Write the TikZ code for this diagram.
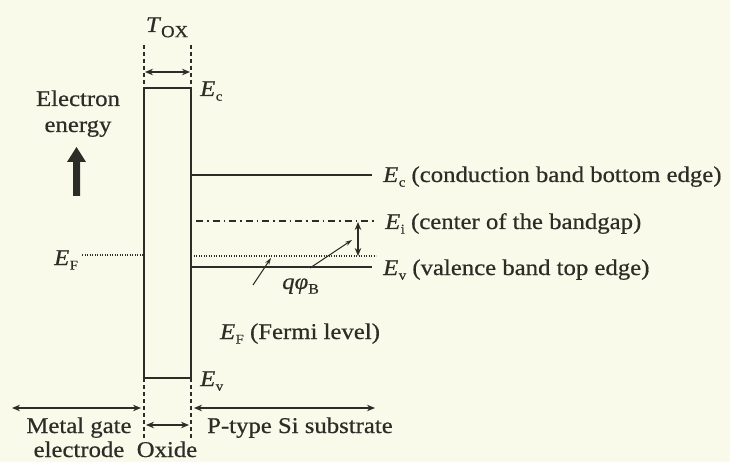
\documentclass[tikz,border=0pt]{standalone}
\usepackage{fontspec}
\setmainfont{Liberation Serif}[FakeStretch=1.1,FakeBold=0.6]
\usetikzlibrary{arrows.meta}
\definecolor{bg}{RGB}{250,250,234}
\definecolor{ink}{RGB}{45,45,40}
\newcommand{\Esub}[1]{\textit{E}\kern0.02em\raisebox{-0.45ex}{\fontsize{13.5}{13.5}\selectfont #1}}
\begin{document}
\begin{tikzpicture}[x=1pt,y=-1pt,
  font=\fontsize{22.5}{25}\selectfont,
  every node/.style={text=ink, inner sep=0pt},
  band/.style={draw=ink, line width=1.7pt},
  guide/.style={draw=ink, line width=1.1pt, dash pattern=on 4pt off 3pt},
  fermi/.style={draw=ink, line width=1.2pt, dash pattern=on 1.2pt off 1.3pt},
  mid/.style={draw=ink, line width=1.3pt, dash pattern=on 7pt off 4pt on 1.5pt off 4pt},
  dim/.style={draw=ink, line width=1.4pt, {Stealth[length=8pt,width=6.5pt]}-{Stealth[length=8pt,width=6.5pt]}},
  pointer/.style={draw=ink, line width=1pt, -{Stealth[length=7pt,width=4.5pt]}}]
\fill[bg] (0,0) rectangle (730,462);
\useasboundingbox (0,0) rectangle (730,462);
% oxide box
\coordinate (oxTL) at (144,88); \coordinate (oxTR) at (191,88);
\coordinate (oxBL) at (144,378); \coordinate (oxBR) at (191,378);
\draw[band] (oxBL) -- (oxTL) -- (oxTR) -- (oxBR) -- cycle;
% dashed guides
\coordinate (gLt) at (144,45); \coordinate (gRt) at (191,45);
\coordinate (gLb) at (144,439); \coordinate (gRb) at (191,439);
\draw[guide] (gLt) -- (oxTL);
\draw[guide] (gRt) -- (oxTR);
\draw[guide] (oxBL) -- (gLb);
\draw[guide] (oxBR) -- (gRb);
% Tox
\coordinate (toxL) at (145,72); \coordinate (toxR) at (190,72);
\draw[dim] (toxL) -- (toxR);
\node[anchor=base] (tox) at (167,32) {\textit{T}\raisebox{-0.5ex}{\fontsize{17}{17}\selectfont OX}};
\node[anchor=base west] (ecox) at (200,96) {\Esub{c}};
\node[anchor=base west] (evox) at (200,386) {\Esub{v}};
% electron energy
\node[anchor=base] (ee1) at (78,106) {Electron};
\node[anchor=base] (ee2) at (78,132) {energy};
\fill[ink] (73,196) -- (73,162) -- (67,162) -- (76.5,147) -- (86,162) -- (80,162) -- (80,196) -- cycle;
% left Fermi level
\node[anchor=base west] (efl) at (54,265) {\Esub{F}};
\coordinate (efl1) at (82,255); \coordinate (efl2) at (143,255);
\draw[fermi] (efl1) -- (efl2);
% substrate bands
\coordinate (ec1) at (191,175); \coordinate (ec2) at (372,175);
\coordinate (ei1) at (196,221); \coordinate (ei2) at (376,221);
\coordinate (ef1) at (191,256); \coordinate (ef2) at (376,256);
\coordinate (ev1) at (191,267); \coordinate (ev2) at (372,267);
\draw[band] (ec1) -- (ec2);
\draw[mid] (ei1) -- (ei2);
\draw[fermi] (ef1) -- (ef2);
\draw[band] (ev1) -- (ev2);
\node[anchor=base west] (ecl) at (383,182) {\Esub{c} (conduction band bottom edge)};
\node[anchor=base west] (eil) at (385,229) {\Esub{i} (center of the bandgap)};
\node[anchor=base west] (evl) at (383,275) {\Esub{v} (valence band top edge)};
% q phi B
\coordinate (pb1) at (358,222); \coordinate (pb2) at (358,256);
\draw[dim] (pb1) -- (pb2);
\node[anchor=base west] (qpb) at (282,289) {\textit{qφ}\raisebox{-0.45ex}{\fontsize{14.5}{14.5}\selectfont B}};
\coordinate (qs) at (310,268); \coordinate (qe) at (352,240);
\draw[pointer] (qs) -- (qe);
\node[anchor=base] (efr) at (300,339) {\Esub{F} (Fermi level)};
\coordinate (fs) at (253,285); \coordinate (fe) at (271,258);
\draw[pointer] (fs) -- (fe);
% bottom regions
\coordinate (mL) at (12,408); \coordinate (mR) at (141,408);
\coordinate (sL) at (194,408); \coordinate (sR) at (375,408);
\coordinate (oL) at (146,425); \coordinate (oR) at (189,425);
\draw[dim] (mL) -- (mR);
\draw[dim] (sL) -- (sR);
\draw[dim] (oL) -- (oR);
\node[anchor=base] (metal1) at (79,433) {Metal gate};
\node[anchor=base] (metal2) at (79,457) {electrode};
\node[anchor=base] (oxide) at (167,457) {Oxide};
\node[anchor=base] (psub) at (300,433) {P-type Si substrate};
\end{tikzpicture}
\end{document}
